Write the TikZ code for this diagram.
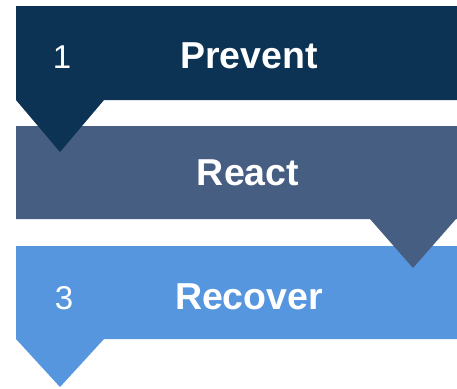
\documentclass[tikz,border=0pt]{standalone}
\usepackage{fontspec}
\setmainfont{Liberation Sans}
\definecolor{bandA}{HTML}{0C3254}
\definecolor{bandB}{HTML}{465E82}
\definecolor{bandC}{HTML}{5596DE}
\begin{document}
\begin{tikzpicture}[x=1pt,y=-1pt,
  label/.style={text=white,font=\fontsize{37.5}{40}\selectfont\bfseries,inner sep=0pt,anchor=base},
  num/.style={text=white,font=\fontsize{33}{36}\selectfont,inner sep=0pt,anchor=base}]
\useasboundingbox (0,0) rectangle (457,388);
% band 3
\fill[bandC] (16,246) -- (457,246) -- (457,339) -- (104,339) -- (60,387) -- (16,339) -- cycle;
% band 2
\fill[bandB] (16,126) -- (457,126) -- (457,219) -- (456,219) -- (413,268) -- (370,219) -- (16,219) -- cycle;
% band 1
\fill[bandA] (16,6) -- (457,6) -- (457,100) -- (104,100) -- (60,152) -- (16,100) -- cycle;
\node[num] (n1) at (62,68) {1};
\node[label] (t1) at (249,68) {Prevent};
\node[label] (t2) at (248,185) {React};
\node[label] (n3) at (249,309) {Recover};
\node[num] (n3num) at (64,309) {3};
\end{tikzpicture}
\end{document}
